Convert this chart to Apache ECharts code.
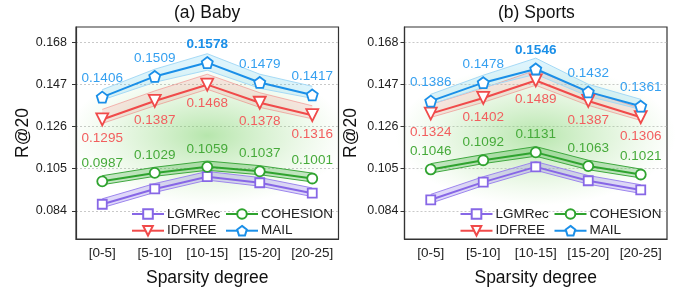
<!DOCTYPE html>
<html>
<head>
<meta charset="utf-8">
<script src="https://cdn.jsdelivr.net/npm/echarts@6/dist/echarts.min.js"></script>
<style>
html, body { margin: 0; padding: 0; background: #fff; }
#chart { width: 686px; height: 294px; }
</style>
</head>
<body>
<div id="chart"></div>
<script>
// x categories and y ticks shared by both panels
const categories = ["[0-5]", "[5-10]", "[10-15]", "[15-20]", "[20-25]"];
const yTicks = [0.084, 0.105, 0.126, 0.147, 0.168];
const panelTitles = ["(a) Baby", "(b) Sports"];

// (a) Baby
const babyLGMRec = [0.0873, 0.0949, 0.1010, 0.0980, 0.0928];
const babyLGMRecHi = [0.0900, 0.0976, 0.1036, 0.1006, 0.0954];
const babyLGMRecLo = [0.0856, 0.0932, 0.0993, 0.0963, 0.0911];
const babyCOHESION = [0.0987, 0.1029, 0.1059, 0.1037, 0.1001];
const babyCOHESIONHi = [0.1015, 0.1057, 0.1088, 0.1065, 0.1028];
const babyCOHESIONLo = [0.0970, 0.1012, 0.1042, 0.1020, 0.0984];
const babyIDFREE = [0.1295, 0.1387, 0.1468, 0.1378, 0.1316];
const babyIDFREEHi = [0.1345, 0.1437, 0.1520, 0.1428, 0.1363];
const babyIDFREELo = [0.1275, 0.1363, 0.1445, 0.1355, 0.1298];
const babyMAIL = [0.1406, 0.1509, 0.1578, 0.1479, 0.1417];
const babyMAILHi = [0.1443, 0.1545, 0.1622, 0.1520, 0.1460];
const babyMAILLo = [0.1392, 0.1480, 0.1540, 0.1450, 0.1400];

// (b) Sports
const sportsLGMRec = [0.0895, 0.0983, 0.1059, 0.0990, 0.0944];
const sportsLGMRecHi = [0.0922, 0.1010, 0.1085, 0.1016, 0.0970];
const sportsLGMRecLo = [0.0878, 0.0966, 0.1042, 0.0973, 0.0927];
const sportsCOHESION = [0.1046, 0.1092, 0.1131, 0.1063, 0.1021];
const sportsCOHESIONHi = [0.1075, 0.1120, 0.1160, 0.1092, 0.1048];
const sportsCOHESIONLo = [0.1028, 0.1075, 0.1112, 0.1045, 0.1004];
const sportsIDFREE = [0.1324, 0.1402, 0.1489, 0.1387, 0.1306];
const sportsIDFREEHi = [0.1370, 0.1450, 0.1540, 0.1435, 0.1350];
const sportsIDFREELo = [0.1305, 0.1380, 0.1465, 0.1365, 0.1290];
const sportsMAIL = [0.1386, 0.1478, 0.1546, 0.1432, 0.1361];
const sportsMAILHi = [0.1420, 0.1515, 0.1600, 0.1470, 0.1395];
const sportsMAILLo = [0.1370, 0.1455, 0.1520, 0.1410, 0.1345];

const FONT = "'Liberation Sans', Arial, sans-serif";
const PENTAGON = "path://M50,0 L97.6,34.5 L79.4,90.5 L20.6,90.5 L2.4,34.5 Z";

// look of each method
const styles = {
    LGMRec:   { color: "#8767e6", labelColor: null,      edge: "#9d86ee", fill: "rgba(150,125,235,0.30)", symbol: "rect",     size: 9,  rotate: 0 },
    COHESION: { color: "#2fa32f", labelColor: "#46aa3a", edge: "#3fa83f", fill: "rgba(70,175,70,0.30)",   symbol: "circle",   size: 10, rotate: 0 },
    IDFREE:   { color: "#f04a4a", labelColor: "#f25e5e", edge: "rgba(240,100,100,0.45)", fill: "rgba(248,130,130,0.18)", symbol: "triangle", size: 12, rotate: 180, below: true },
    MAIL:     { color: "#1a8fe8", labelColor: "#35a0f0", edge: "#a6daf6", fill: "rgba(100,205,240,0.22)", symbol: PENTAGON,   size: 11, rotate: 0, boldMax: true }
};

const panels = [
    { LGMRec: [babyLGMRec, babyLGMRecHi, babyLGMRecLo], COHESION: [babyCOHESION, babyCOHESIONHi, babyCOHESIONLo],
      IDFREE: [babyIDFREE, babyIDFREEHi, babyIDFREELo], MAIL: [babyMAIL, babyMAILHi, babyMAILLo] },
    { LGMRec: [sportsLGMRec, sportsLGMRecHi, sportsLGMRecLo], COHESION: [sportsCOHESION, sportsCOHESIONHi, sportsCOHESIONLo],
      IDFREE: [sportsIDFREE, sportsIDFREEHi, sportsIDFREELo], MAIL: [sportsMAIL, sportsMAILHi, sportsMAILLo] }
];

const gridLeft = [76, 404.5];
const gridWidth = 262.5;

const buildSeries = (p, name, values, hi, lo) => {
    const s = styles[name];
    const stack = "band" + p + name;
    const maxIdx = values.indexOf(Math.max.apply(null, values));
    const lower = {
        name: name + " band", type: "line", xAxisIndex: p, yAxisIndex: p, stack: stack,
        data: lo, symbol: "none", silent: true, z: 2,
        lineStyle: { color: s.edge, width: 1 }
    };
    const upper = {
        name: name + " band", type: "line", xAxisIndex: p, yAxisIndex: p, stack: stack,
        data: hi.map((h, i) => +(h - lo[i]).toFixed(5)), symbol: "none", silent: true, z: 2,
        lineStyle: { color: s.edge, width: 1 },
        areaStyle: { color: s.fill, opacity: 1 }
    };
    const main = {
        name: name, type: "line", xAxisIndex: p, yAxisIndex: p, z: 3,
        data: values.map((v, i) => (s.boldMax && i === maxIdx)
            ? { value: v, label: { fontWeight: "bold", color: s.color } }
            : v),
        symbol: s.symbol, symbolSize: s.size, symbolRotate: s.rotate,
        lineStyle: { color: s.color, width: 2 },
        itemStyle: { color: "#fff", borderColor: s.color, borderWidth: 1.8 },
        label: {
            show: !!s.labelColor,
            position: s.below ? "bottom" : "top",
            distance: 5,
            color: s.labelColor,
            fontSize: 13.5,
            fontFamily: FONT,
            formatter: (d) => d.value.toFixed(4)
        },
        emphasis: { disabled: true }
    };
    return [lower, upper, main];
};

let series = [];
panels.forEach((panel, p) => {
    ["LGMRec", "COHESION", "IDFREE", "MAIL"].forEach(name => {
        const d = panel[name];
        series = series.concat(buildSeries(p, name, d[0], d[1], d[2]));
    });
});

const legendCommon = {
    orient: "vertical", itemWidth: 32, itemHeight: 12, itemGap: 2.7, top: 207, padding: 0,
    selectedMode: false,
    textStyle: { fontSize: 13.5, color: "#222", fontFamily: FONT, padding: [0, 0, 0, -2] }
};

const titleStyle = { fontSize: 17.5, fontWeight: "normal", color: "#111", fontFamily: FONT };

const option = {
    animation: false,
    backgroundColor: "#fff",
    title: [
        { text: panelTitles[0], left: 174, top: 4, padding: 0, textStyle: titleStyle },
        { text: panelTitles[1], left: 498, top: 4, padding: 0, textStyle: titleStyle }
    ],
    legend: [
        Object.assign({ left: gridLeft[0] + 55, data: ["LGMRec", "IDFREE"] }, legendCommon),
        Object.assign({ left: gridLeft[0] + 149, data: ["COHESION", "MAIL"] }, legendCommon),
        Object.assign({ left: gridLeft[1] + 55, data: ["LGMRec", "IDFREE"] }, legendCommon),
        Object.assign({ left: gridLeft[1] + 149, data: ["COHESION", "MAIL"] }, legendCommon)
    ],
    grid: gridLeft.map(l => ({
        left: l, top: 27, width: gridWidth, height: 212,
        show: true, borderColor: "#333", borderWidth: 1.2, backgroundColor: "transparent"
    })),
    xAxis: [0, 1].map(p => ({
        type: "category", gridIndex: p, data: categories, boundaryGap: true,
        name: "Sparsity degree", nameLocation: "middle", nameGap: 30,
        nameTextStyle: { fontSize: 17.5, color: "#111", fontFamily: FONT },
        axisLine: { lineStyle: { color: "#333", width: 1.2 } },
        axisTick: { alignWithLabel: true, length: 4, lineStyle: { color: "#333" } },
        axisLabel: { fontSize: 13.5, color: "#222", margin: 7, fontFamily: FONT, interval: 0 },
        splitLine: { show: false }
    })),
    yAxis: [0, 1].map(p => ({
        type: "value", gridIndex: p, min: 0.0700, max: 0.1755,
        name: "R@20", nameLocation: "middle", nameGap: 44,
        nameTextStyle: { fontSize: 17.5, color: "#111", fontFamily: FONT },
        axisLine: { show: true, lineStyle: { color: "#333", width: 1.2 } },
        axisTick: { show: true, length: 4, customValues: yTicks, lineStyle: { color: "#333" } },
        axisLabel: { fontSize: 12.5, color: "#222", margin: p === 0 ? 9 : 6, fontFamily: FONT,
                     customValues: yTicks, formatter: (v) => v.toFixed(3) },
        splitLine: { show: true, lineStyle: { color: "#bbb", width: 0.8, type: [2, 2] } }
    })),
    series: series
};

const chart = echarts.init(document.getElementById("chart"));
chart.setOption(option);

// soft green glow behind the lines, centred on the middle category
const glow = [0, 1].map(p => {
    const c = chart.convertToPixel({ xAxisIndex: p, yAxisIndex: p }, [categories[2], 0.1215]);
    return {
        type: "circle", x: c[0], y: c[1], scaleX: 2.0, silent: true, z: 1,
        shape: { cx: 0, cy: 0, r: 70 },
        style: {
            fill: new echarts.graphic.RadialGradient(0.5, 0.5, 0.5, [
                { offset: 0, color: "rgba(110,205,90,0.50)" },
                { offset: 0.55, color: "rgba(140,215,120,0.24)" },
                { offset: 1, color: "rgba(160,225,140,0)" }
            ])
        }
    };
});
chart.setOption({ graphic: glow });
</script>
</body>
</html>
